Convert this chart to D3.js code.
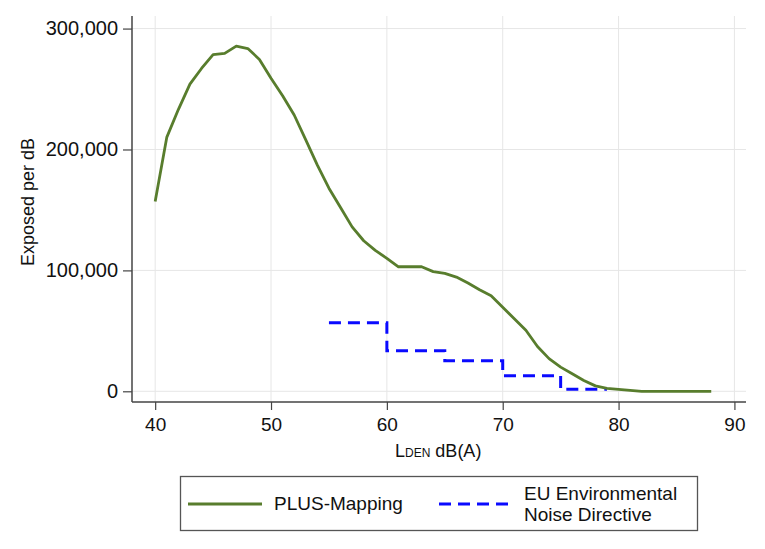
<!DOCTYPE html>
<html>
<head>
<meta charset="utf-8">
<script src="https://cdn.jsdelivr.net/npm/d3@7"></script>
<style>
  body { margin: 0; background: #fff; }
  text { font-family: "Liberation Sans", Arial, sans-serif; fill: #111; }
</style>
</head>
<body>
<div id="area"></div>
<script>
// PLUS-Mapping curve, exposed per dB at each integer L_DEN
var plusLevels = d3.range(40, 89);
var plusValues = [157000, 210000, 233000, 254000, 267000, 278500, 279500, 285500, 283500, 274500,
                  259000, 244500, 228500, 208000, 187000, 168000, 152000, 136000, 124500, 116500,
                  110000, 103000, 103000, 103000, 99000, 97500, 94500, 89500, 84000, 79000,
                  69500, 60000, 50500, 37000, 27000, 20000, 14500, 9000, 4500, 2500,
                  1600, 800, 0, 0, 0, 0, 0, 0, 0];
// EU Environmental Noise Directive bands (step start, value)
var euLevels = [55, 60, 65, 70, 75, 79];
var euValues = [56700, 33600, 25300, 12900, 1600, 1600];

var xTicks = [40, 50, 60, 70, 80, 90];
var yTicks = [0, 100000, 200000, 300000];
var seriesNames = ["PLUS-Mapping", "EU Environmental", "Noise Directive"];

var width = 765, height = 549;
var green = "#587d2d", blue = "#0a0aff";

var svg = d3.select('#area').append('svg')
            .attr('width', width)
            .attr('height', height);

var x = d3.scaleLinear().domain([38, 91]).range([132, 746]);
var y = d3.scaleLinear().domain([-8850, 310400]).range([402, 16]);

// grid
svg.append('g').selectAll('line.gx')
   .data(xTicks).enter().append('line')
   .attr('x1', d => x(d)).attr('x2', d => x(d))
   .attr('y1', 16).attr('y2', 402)
   .attr('stroke', '#e6e6e6').attr('stroke-width', 1);
svg.append('g').selectAll('line.gy')
   .data(yTicks).enter().append('line')
   .attr('x1', 132).attr('x2', 746)
   .attr('y1', d => y(d)).attr('y2', d => y(d))
   .attr('stroke', '#e6e6e6').attr('stroke-width', 1);

// axes
var xAxis = d3.axisBottom(x).tickValues(xTicks).tickSize(8).tickPadding(8).tickSizeOuter(0);
var yAxis = d3.axisLeft(y).tickValues(yTicks).tickSize(9).tickPadding(5).tickSizeOuter(0)
              .tickFormat(d3.format(','));

var gx = svg.append('g').attr('transform', 'translate(0,402)').call(xAxis);
var gy = svg.append('g').attr('transform', 'translate(132,0)').call(yAxis);
[gx, gy].forEach(function(g) {
  g.select('.domain').attr('stroke', '#444').attr('stroke-width', 1.5);
  g.selectAll('.tick line').attr('stroke', '#444').attr('stroke-width', 1.2);
  g.selectAll('.tick text').style('font-family', '"Liberation Sans", Arial, sans-serif')
   .style('font-size', '19px').attr('fill', '#111');
});
gy.selectAll('.tick text').style('font-size', '20px');
gy.select('.domain').attr('d', 'M0,16V402');
gx.select('.domain').attr('d', 'M132,0H746');

// axis titles
svg.append('text')
   .attr('transform', 'translate(34,202) rotate(-90)')
   .attr('text-anchor', 'middle')
   .style('font-size', '18px')
   .text('Exposed per dB');

var xt = svg.append('text')
   .attr('x', 395).attr('y', 457)
   .style('font-size', '18px');
xt.append('tspan').text('L');
xt.append('tspan').style('font-size', '12px').text('DEN');
xt.append('tspan').text(' dB(A)');

// lines
var line = d3.line().x(d => x(d[0])).y(d => y(d[1]));
var stepLine = d3.line().x(d => x(d[0])).y(d => y(d[1])).curve(d3.curveStepAfter);

svg.append('path')
   .datum(d3.zip(euLevels, euValues))
   .attr('d', stepLine)
   .attr('fill', 'none')
   .attr('stroke', blue)
   .attr('stroke-width', 3)
   .attr('stroke-dasharray', '12,7');

svg.append('path')
   .datum(d3.zip(plusLevels, plusValues))
   .attr('d', line)
   .attr('fill', 'none')
   .attr('stroke', green)
   .attr('stroke-width', 2.8)
   .attr('stroke-linejoin', 'round');

// legend
var lg = svg.append('g');
lg.append('rect')
  .attr('x', 180.5).attr('y', 476.5).attr('width', 517).attr('height', 54)
  .attr('fill', '#fff').attr('stroke', '#555').attr('stroke-width', 1.3);
lg.append('line')
  .attr('x1', 188).attr('x2', 262).attr('y1', 504).attr('y2', 504)
  .attr('stroke', green).attr('stroke-width', 2.8);
lg.append('text').attr('x', 274).attr('y', 510).style('font-size', '19px').text(seriesNames[0]);
lg.append('line')
  .attr('x1', 439).attr('x2', 512).attr('y1', 504).attr('y2', 504)
  .attr('stroke', blue).attr('stroke-width', 3).attr('stroke-dasharray', '12,7');
lg.append('text').attr('x', 524).attr('y', 500).style('font-size', '19px').text(seriesNames[1]);
lg.append('text').attr('x', 524).attr('y', 521).style('font-size', '19px').text(seriesNames[2]);
</script>
</body>
</html>
